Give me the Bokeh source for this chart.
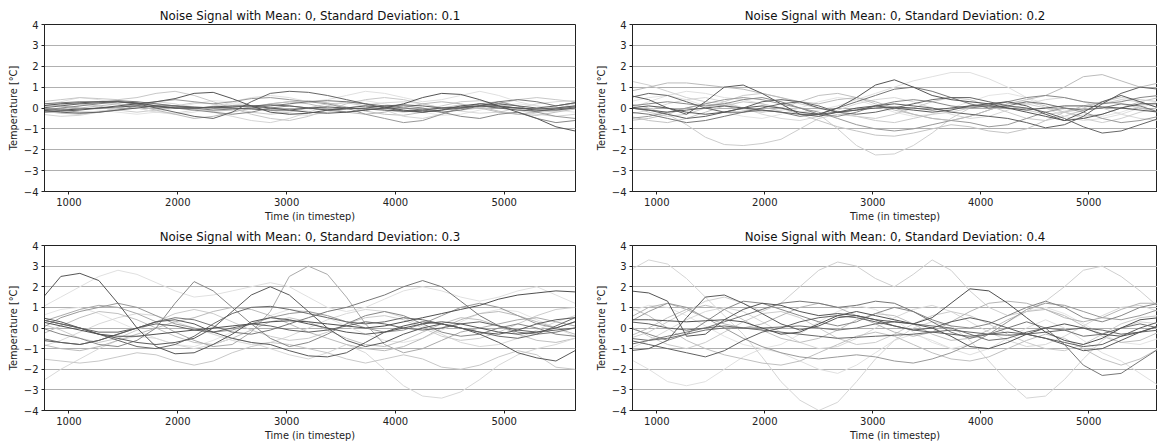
from bokeh.plotting import figure
from bokeh.layouts import column, row
from bokeh.models import Range1d, FixedTicker
from bokeh.embed import file_html
from bokeh.resources import INLINE

timesteps = list(range(750, 5651, 175))
y_ticks = [-4, -3, -2, -1, 0, 1, 2, 3, 4]
x_ticks = [1000, 2000, 3000, 4000, 5000]

# ---------- SD 0.1 ----------
sd01_colors = ["#e4e4e4", "#d8d8d8", "#cccccc", "#c0c0c0",
               "#e0e0e0", "#d5d5d5", "#c8c8c8", "#bbbbbb", "#999999", "#888888",
               "#777777", "#666666", "#606060", "#5a5a5a", "#555555", "#555555"]
sd01_lines = [
    [0.2,0.1,0.0,-0.1,-0.2,-0.3,-0.2,0.0,0.2,0.35,0.3,0.1,-0.1,-0.2,-0.1,0.1,0.3,0.35,0.2,0.0,-0.2,-0.35,-0.3,-0.1,0.1,0.2,0.1,-0.1,-0.2],
    [-0.25,-0.1,0.1,0.25,0.2,0.0,-0.2,-0.25,-0.1,0.1,0.2,0.1,-0.1,-0.3,-0.35,-0.2,0.0,0.15,0.25,0.3,0.2,0.0,-0.15,-0.25,-0.2,0.0,0.2,0.3,0.35],
    [0.05,0.15,0.2,0.1,-0.1,-0.2,-0.1,0.1,0.25,0.2,0.0,-0.2,-0.3,-0.2,0.0,0.2,0.25,0.1,-0.1,-0.2,-0.1,0.1,0.3,0.35,0.2,-0.05,-0.2,-0.15,0.0],
    [-0.15,-0.25,-0.3,-0.2,0.0,0.15,0.2,0.1,-0.05,-0.15,-0.1,0.05,0.2,0.3,0.35,0.25,0.05,-0.15,-0.3,-0.35,-0.2,0.0,0.15,0.05,-0.15,-0.3,-0.35,-0.2,-0.05],
    [0.1,0.3,0.5,0.4,0.2,0.0,-0.2,-0.3,-0.2,0.0,0.3,0.5,0.6,0.5,0.3,0.4,0.6,0.8,0.7,0.5,0.3,0.4,0.6,0.8,0.6,0.3,0.1,0.0,0.2],
    [-0.3,-0.4,-0.35,-0.2,0.0,0.2,0.3,0.2,0.0,-0.2,-0.4,-0.6,-0.7,-0.5,-0.2,0.1,0.3,0.2,-0.1,-0.4,-0.5,-0.3,0.0,0.2,0.1,-0.1,-0.3,-0.4,-0.3],
    [0.3,0.4,0.5,0.45,0.4,0.5,0.7,0.8,0.6,0.3,0.0,-0.3,-0.5,-0.6,-0.4,-0.1,0.2,0.4,0.5,0.4,0.2,0.0,-0.1,0.0,0.2,0.4,0.5,0.4,0.3],
    [0.25,0.1,0.0,0.1,0.2,0.1,-0.1,-0.3,-0.5,-0.4,-0.2,0.0,0.2,0.3,0.2,0.0,-0.2,-0.3,-0.2,0.0,0.2,0.3,0.2,0.0,-0.2,-0.3,-0.2,0.0,0.1],
    [0.0,-0.1,-0.2,-0.2,-0.1,0.1,0.3,0.4,0.3,0.2,0.3,0.45,0.5,0.4,0.3,0.2,0.0,-0.3,-0.5,-0.7,-0.6,-0.3,0.0,0.2,0.3,0.1,-0.2,-0.4,-0.5],
    [-0.1,0.0,0.1,0.2,0.3,0.2,0.1,0.0,-0.1,-0.2,-0.3,-0.2,0.0,0.1,0.0,-0.1,-0.2,-0.1,0.0,0.1,0.0,-0.2,-0.4,-0.5,-0.3,-0.2,-0.5,-0.7,-0.6],
    [0.2,0.25,0.3,0.3,0.35,0.3,0.2,0.1,0.0,-0.1,-0.05,0.0,0.1,0.2,0.3,0.35,0.3,0.2,0.1,0.0,-0.1,-0.2,-0.1,0.1,0.3,0.4,0.3,0.1,0.25],
    [0.0,0.1,0.2,0.25,0.3,0.2,0.0,-0.2,-0.4,-0.5,-0.2,0.3,0.7,0.8,0.75,0.6,0.4,0.2,0.0,-0.15,-0.2,-0.1,0.0,0.1,0.0,-0.1,-0.15,-0.05,0.05],
    [-0.1,-0.2,-0.25,-0.2,-0.1,0.0,0.1,0.1,0.05,0.0,0.05,0.1,0.15,0.1,0.0,-0.1,-0.05,0.0,0.1,0.15,0.1,0.0,0.0,0.1,0.2,0.1,0.0,0.1,0.25],
    [-0.2,-0.15,-0.1,0.0,0.05,0.1,0.05,0.0,0.0,0.05,0.0,-0.05,-0.1,-0.1,0.0,0.05,0.0,-0.05,-0.1,-0.15,-0.1,0.0,0.05,0.1,0.05,0.0,-0.05,0.0,0.1],
    [-0.1,-0.1,-0.05,0.0,0.1,0.2,0.3,0.45,0.7,0.75,0.45,0.1,-0.2,-0.3,-0.25,-0.1,0.0,0.1,0.05,-0.1,-0.2,-0.1,0.1,0.2,0.1,0.0,-0.1,-0.1,0.0],
    [0.1,0.2,0.25,0.3,0.3,0.25,0.1,0.0,0.0,0.05,0.1,0.1,0.0,-0.1,-0.2,-0.25,-0.2,-0.1,0.0,0.2,0.5,0.7,0.65,0.4,0.1,-0.2,-0.5,-0.9,-1.1],
]

# ---------- SD 0.2 ----------
sd02_colors = ["#e4e4e4", "#d8d8d8", "#cccccc", "#c0c0c0",
               "#e0e0e0", "#d0d0d0", "#cccccc", "#c4c4c4", "#bbbbbb", "#999999",
               "#888888", "#777777", "#666666", "#606060", "#5c5c5c", "#5a5a5a", "#555555"]
sd02_lines = [
    [0.3,0.5,0.6,0.4,0.1,-0.2,-0.4,-0.5,-0.3,0.0,0.3,0.5,0.4,0.1,-0.2,-0.4,-0.3,0.0,0.3,0.6,0.7,0.5,0.2,-0.1,-0.3,-0.4,-0.2,0.1,0.3],
    [-0.3,-0.1,0.2,0.4,0.5,0.3,0.0,-0.3,-0.5,-0.6,-0.4,-0.1,0.2,0.4,0.5,0.3,0.0,-0.3,-0.5,-0.4,-0.1,0.2,0.4,0.5,0.3,0.0,-0.3,-0.5,-0.6],
    [0.1,-0.2,-0.4,-0.3,0.0,0.3,0.6,0.7,0.5,0.2,0.0,-0.2,-0.4,-0.5,-0.3,0.0,0.3,0.5,0.4,0.1,-0.2,-0.5,-0.6,-0.4,-0.1,0.2,0.4,0.3,0.0],
    [-0.6,-0.5,-0.3,0.0,0.2,0.1,-0.1,-0.2,0.0,0.3,0.6,0.7,0.5,0.2,-0.1,-0.3,-0.5,-0.6,-0.4,-0.1,0.2,0.3,0.1,-0.2,-0.4,-0.3,0.0,0.3,0.5],
    [0.0,0.3,0.6,0.8,0.7,0.5,0.4,0.2,0.0,-0.2,-0.1,0.1,0.4,0.7,1.0,1.3,1.5,1.7,1.7,1.4,1.0,0.5,0.0,-0.4,-0.6,-0.5,-0.3,0.0,0.3],
    [1.3,1.1,0.8,0.5,0.3,0.2,0.0,-0.2,-0.1,0.0,-0.3,-1.0,-1.8,-2.25,-2.2,-1.8,-1.2,-0.5,0.0,0.2,0.3,0.2,0.0,-0.2,-0.5,-0.7,-0.5,-0.2,0.0],
    [0.2,0.0,-0.3,-0.8,-1.4,-1.75,-1.8,-1.7,-1.5,-1.0,-0.5,-0.3,-0.4,-0.6,-0.7,-0.5,-0.3,-0.2,0.0,0.2,0.1,-0.1,-0.3,-0.2,0.0,0.3,0.5,0.4,0.3],
    [-0.4,-0.6,-0.7,-0.5,-0.2,0.1,0.3,0.2,0.0,-0.3,-0.6,-0.9,-1.1,-1.3,-1.35,-1.2,-1.0,-0.8,-0.9,-1.1,-1.2,-1.0,-0.6,-0.2,0.1,0.3,0.2,0.0,-0.2],
    [0.8,1.0,1.2,1.2,1.1,1.0,0.9,0.7,0.5,0.3,0.2,0.4,0.5,0.3,0.0,-0.3,-0.5,-0.6,-0.4,-0.1,0.2,0.4,0.6,1.0,1.5,1.6,1.3,1.0,1.2],
    [-0.5,-0.4,-0.2,0.0,0.2,0.4,0.5,0.4,0.2,0.0,-0.2,-0.5,-0.8,-1.0,-1.1,-1.0,-0.8,-0.6,-0.7,-0.9,-0.8,-0.5,-0.2,0.0,-0.2,-0.5,-0.7,-0.6,-0.4],
    [0.1,0.2,0.3,0.2,0.1,0.2,0.4,0.5,0.3,0.0,-0.3,-0.4,-0.2,0.1,0.3,0.4,0.3,0.1,0.0,0.1,0.3,0.5,0.6,0.5,0.3,0.2,0.3,0.5,0.6],
    [-0.2,-0.3,-0.5,-0.7,-0.6,-0.4,-0.2,-0.1,-0.2,-0.4,-0.3,0.0,0.3,0.6,0.9,1.0,0.8,0.5,0.2,0.0,0.1,0.3,0.2,0.0,-0.1,0.0,0.2,0.1,-0.2],
    [0.5,0.7,0.6,0.3,0.0,-0.2,-0.2,0.0,0.2,0.3,0.1,-0.2,-0.3,-0.2,0.0,0.2,0.4,0.5,0.5,0.3,0.1,0.0,-0.2,-0.5,-0.9,-1.2,-1.1,-0.8,-0.5],
    [0.0,-0.1,-0.3,-0.5,-0.4,-0.2,0.0,0.3,0.4,0.3,0.0,-0.2,-0.1,0.1,0.2,0.1,0.0,-0.2,-0.3,-0.4,-0.5,-0.7,-0.95,-0.8,-0.4,0.2,0.7,1.0,0.9],
    [0.0,-0.1,-0.2,-0.1,0.0,0.1,0.0,-0.1,-0.2,-0.3,-0.3,-0.2,-0.1,0.0,0.05,0.0,-0.1,0.0,0.1,0.1,0.0,-0.1,0.0,0.1,0.1,0.05,0.0,-0.1,-0.2],
    [0.6,0.4,0.0,-0.3,0.3,1.0,1.1,0.7,0.2,-0.3,-0.4,-0.2,0.0,0.1,0.0,-0.1,-0.2,-0.1,0.1,0.2,0.3,0.1,-0.3,-0.6,-0.2,0.3,0.6,0.3,0.0],
    [0.0,0.1,0.0,-0.2,-0.3,-0.2,0.0,0.1,0.0,-0.2,-0.3,0.0,0.5,1.1,1.35,1.0,0.6,0.4,0.3,0.2,0.0,-0.2,-0.4,-0.6,-0.5,-0.3,0.0,0.2,0.2],
]

# ---------- SD 0.3 ----------
sd03_colors = ["#e4e4e4", "#d8d8d8", "#cccccc", "#c0c0c0",
               "#e0e0e0", "#d8d8d8", "#c8c8c8", "#bbbbbb", "#aaaaaa", "#999999",
               "#888888", "#777777", "#6a6a6a", "#636363", "#5a5a5a", "#5a5a5a", "#4f4f4f", "#555555"]
sd03_lines = [
    [0.6,0.9,1.0,0.7,0.3,-0.1,-0.5,-0.8,-0.9,-0.6,-0.2,0.2,0.6,0.9,0.8,0.5,0.1,-0.3,-0.6,-0.7,-0.5,-0.1,0.3,0.7,0.9,0.8,0.4,0.0,-0.4],
    [-0.9,-0.6,-0.2,0.2,0.5,0.7,0.6,0.3,0.0,-0.3,-0.6,-0.8,-0.7,-0.4,0.0,0.4,0.7,0.9,0.8,0.5,0.1,-0.3,-0.7,-0.9,-0.8,-0.5,-0.1,0.3,0.6],
    [0.2,-0.1,-0.5,-0.7,-0.5,-0.1,0.3,0.7,0.9,0.7,0.3,-0.1,-0.4,-0.6,-0.5,-0.2,0.2,0.5,0.6,0.4,0.0,-0.4,-0.6,-0.5,-0.2,0.2,0.6,0.9,1.0],
    [-0.3,0.1,0.5,0.8,0.7,0.4,0.0,-0.4,-0.7,-0.8,-0.5,-0.1,0.3,0.5,0.3,-0.1,-0.5,-0.8,-0.9,-0.6,-0.2,0.2,0.5,0.4,0.1,-0.3,-0.6,-0.7,-0.5],
    [1.0,1.5,2.0,2.5,2.8,2.6,2.2,1.8,1.5,1.6,1.8,2.0,2.2,2.0,1.5,1.0,0.8,1.0,1.4,1.8,2.0,1.8,1.5,1.3,1.5,1.8,2.0,1.6,1.2],
    [-2.6,-2.0,-1.5,-1.0,-0.6,-0.4,-0.5,-0.8,-1.0,-0.8,-0.5,-0.7,-1.0,-1.3,-1.5,-1.2,-0.8,-1.2,-2.0,-2.8,-3.3,-3.4,-3.1,-2.5,-1.8,-1.3,-1.0,-0.8,-0.5],
    [-1.5,-1.6,-1.7,-1.6,-1.4,-1.2,-1.3,-1.6,-1.8,-1.6,-1.2,-0.9,-0.7,-0.8,-1.0,-1.2,-1.5,-1.7,-1.5,-1.3,-1.5,-1.9,-2.0,-1.8,-1.4,-1.1,-1.3,-1.9,-2.0],
    [-0.8,-1.0,-1.1,-0.9,-0.6,-0.3,0.0,0.3,0.5,0.8,1.0,0.9,0.6,0.2,-0.2,-0.5,-0.8,-1.0,-1.1,-0.9,-0.5,0.0,0.4,0.7,0.8,0.6,0.3,0.0,-0.3],
    [0.3,0.6,0.9,1.1,1.0,0.7,0.3,-0.2,-0.6,-0.9,-0.8,-0.2,0.8,2.5,3.0,2.6,1.5,0.2,-0.8,-1.2,-1.0,-0.6,-0.2,0.0,0.2,0.4,0.5,0.3,0.1],
    [0.0,0.5,0.8,1.0,1.2,1.0,0.6,0.2,0.0,-0.2,-0.1,0.2,0.5,0.7,0.8,0.6,0.3,0.0,-0.2,-0.1,0.2,0.6,1.0,1.2,1.0,0.6,0.2,0.0,0.3],
    [0.0,-0.3,-0.5,-0.8,-0.9,-0.6,0.0,1.2,2.25,1.8,1.0,0.2,-0.5,-0.9,-0.7,-0.3,0.2,0.6,0.8,0.6,0.2,-0.2,-0.4,-0.3,0.0,0.2,0.0,-0.3,-0.4],
    [-0.5,-0.7,-0.8,-0.6,-0.3,0.0,0.3,0.5,0.4,0.1,-0.2,-0.3,-0.1,0.2,0.5,0.8,1.0,1.3,1.6,2.0,2.3,2.0,1.3,0.6,0.1,-0.2,-0.3,-0.2,0.0],
    [0.4,0.2,0.0,-0.3,-0.6,-0.9,-1.0,-0.8,-0.4,0.2,0.7,1.0,1.05,0.9,0.7,0.5,0.3,0.2,0.3,0.5,0.4,0.2,0.0,-0.2,-0.4,-0.5,-0.3,0.1,0.5],
    [0.4,0.2,0.0,-0.2,-0.2,0.0,0.2,0.1,-0.1,-0.2,0.0,0.2,0.1,-0.1,-0.2,-0.1,0.1,0.3,0.2,0.0,-0.1,0.0,0.2,0.3,0.1,-0.1,-0.2,-0.1,0.0],
    [0.5,0.3,0.0,-0.3,-0.5,-0.7,-0.8,-0.7,-0.5,0.0,0.8,1.6,2.0,1.6,0.8,0.0,-0.6,-0.9,-0.7,-0.3,0.0,0.2,0.0,-0.2,-0.3,-0.1,0.2,0.4,0.5],
    [-0.6,-0.7,-0.8,-0.6,-0.3,0.0,0.3,0.4,0.2,-0.2,-0.5,-0.7,-0.8,-1.1,-1.35,-1.4,-1.2,-0.7,-0.2,0.1,0.3,0.2,0.0,-0.3,-0.7,-1.2,-1.45,-1.6,-1.1],
    [0.3,0.1,-0.1,-0.3,-0.4,-0.4,-0.3,-0.2,-0.1,0.0,0.1,0.2,0.3,0.35,0.3,0.2,0.1,0.0,0.1,0.3,0.5,0.7,0.9,1.1,1.4,1.6,1.7,1.8,1.75],
    [1.4,2.5,2.65,2.3,1.2,0.0,-0.9,-1.25,-1.2,-0.8,-0.3,0.3,0.5,0.4,0.2,0.0,-0.2,-0.3,-0.2,0.0,0.2,0.3,0.2,0.0,-0.2,-0.3,-0.2,0.0,0.3],
]

# ---------- SD 0.4 ----------
sd04_colors = ["#e4e4e4", "#d8d8d8", "#cccccc", "#c0c0c0",
               "#e0e0e0", "#d5d5d5", "#cfcfcf", "#c0c0c0", "#b5b5b5", "#9a9a9a",
               "#888888", "#777777", "#707070", "#666666", "#606060", "#5a5a5a", "#4f4f4f", "#555555"]
sd04_lines = [
    [0.8,1.1,1.0,0.6,0.1,-0.4,-0.8,-1.0,-0.8,-0.3,0.3,0.8,1.1,0.9,0.4,-0.2,-0.7,-1.0,-0.8,-0.3,0.3,0.8,1.0,0.7,0.2,-0.3,-0.7,-0.8,-0.5],
    [-1.0,-0.6,-0.1,0.4,0.8,1.0,0.8,0.3,-0.2,-0.7,-1.0,-0.9,-0.5,0.0,0.5,0.9,1.1,0.8,0.3,-0.2,-0.6,-0.9,-0.8,-0.4,0.1,0.6,1.0,1.1,0.8],
    [0.1,-0.4,-0.8,-1.0,-0.7,-0.2,0.3,0.7,0.8,0.5,0.0,-0.5,-0.8,-0.7,-0.3,0.2,0.6,0.8,0.6,0.2,-0.3,-0.7,-1.0,-1.1,-0.8,-0.3,0.2,0.5,0.6],
    [-0.4,0.0,0.5,0.9,1.1,0.9,0.4,-0.1,-0.5,-0.7,-0.5,-0.1,0.4,0.7,0.6,0.2,-0.3,-0.6,-0.5,-0.1,0.4,0.8,0.9,0.6,0.1,-0.4,-0.7,-0.6,-0.2],
    [-1.5,-2.0,-2.6,-2.8,-2.6,-2.0,-1.4,-1.0,-1.2,-1.6,-2.0,-2.2,-1.8,-1.2,-0.6,-0.3,-0.6,-1.0,-1.3,-1.0,-0.5,0.0,0.4,0.0,-0.6,-1.2,-1.6,-2.2,-2.8],
    [2.8,3.3,3.1,2.4,1.5,0.6,-0.3,-1.4,-2.6,-3.5,-4.0,-3.6,-2.6,-1.5,-0.6,0.0,0.3,0.1,-0.6,-1.6,-2.6,-3.4,-3.3,-2.5,-1.5,-0.6,0.0,0.3,0.2],
    [-0.5,-0.2,0.3,0.8,1.3,1.5,1.2,0.8,1.2,2.0,2.8,3.2,3.0,2.4,2.0,2.6,3.3,2.8,1.8,1.0,0.6,0.8,1.3,2.0,2.8,3.0,2.5,1.8,1.0],
    [1.0,0.6,0.0,-0.6,-1.0,-1.3,-1.5,-1.7,-1.8,-1.6,-1.2,-0.8,-0.4,-0.2,-0.4,-0.8,-1.2,-1.5,-1.6,-1.4,-1.0,-0.6,-0.3,-0.5,-1.0,-1.5,-1.8,-1.5,-1.0],
    [0.5,1.0,1.2,0.9,0.5,0.2,0.0,0.2,0.6,1.0,1.2,1.0,0.6,0.2,-0.2,-0.4,-0.2,0.3,0.8,1.2,1.3,1.2,0.9,0.5,0.3,0.5,0.9,1.2,1.2],
    [0.3,0.8,1.2,1.0,0.5,0.0,-0.5,-0.9,-1.2,-1.4,-1.5,-1.4,-1.3,-1.4,-1.6,-1.7,-1.5,-1.2,-0.8,-0.3,0.3,0.9,1.2,1.1,0.8,0.5,0.4,0.6,0.9],
    [0.0,-0.3,-0.6,-0.3,0.3,0.9,1.3,1.2,0.9,0.6,0.3,0.1,0.3,0.7,1.0,0.8,0.4,0.1,0.0,0.2,0.6,1.0,1.3,1.0,0.5,0.3,0.6,1.0,1.2],
    [-0.8,-0.6,-0.4,-0.2,0.0,0.3,0.6,0.9,1.2,1.3,1.2,1.0,1.1,1.3,1.2,0.8,0.3,-0.2,-0.5,-0.3,0.0,0.3,0.0,-0.8,-1.8,-2.3,-2.2,-1.6,-1.0],
    [-0.5,-0.6,-0.5,-0.3,-0.1,0.0,0.0,0.0,0.05,0.1,0.0,-0.1,0.0,0.2,0.3,0.2,0.1,0.0,-0.3,-0.6,-0.5,-0.2,0.0,-0.1,-0.4,-0.3,0.0,0.2,0.0],
    [0.3,0.2,0.0,-0.1,0.0,0.1,0.0,-0.1,-0.2,-0.3,-0.4,-0.5,-0.45,-0.4,-0.35,-0.3,-0.2,-0.1,-0.2,-0.3,-0.35,-0.3,-0.2,-0.1,0.0,-0.1,-0.3,-0.2,-0.1],
    [-0.6,-0.8,-1.0,-1.2,-1.4,-1.1,-0.6,-0.2,0.0,0.3,0.5,0.6,0.5,0.3,0.1,-0.1,-0.2,-0.3,-0.4,-0.3,-0.2,-0.3,-0.5,-0.7,-0.9,-0.8,-0.4,0.0,0.3],
    [-1.1,-1.0,-0.6,0.5,1.5,1.6,1.2,0.7,0.2,-0.1,0.1,0.5,0.6,0.4,0.1,-0.1,0.0,0.3,0.5,0.3,0.0,-0.3,-0.5,-0.8,-1.1,-1.0,-0.6,-0.2,0.1],
    [0.4,0.4,0.35,0.3,0.35,0.4,0.3,0.0,-0.3,-0.2,0.2,0.6,0.8,0.6,0.4,0.2,0.5,1.2,1.9,1.8,1.2,0.5,-0.2,-0.6,-0.8,-0.5,0.0,0.4,0.5],
    [1.8,1.7,1.3,-0.4,-0.3,0.4,0.9,1.2,1.1,0.8,0.6,0.7,0.6,0.4,0.3,0.2,0.0,-0.4,-0.9,-1.0,-0.7,-0.3,0.0,0.2,0.0,-0.3,-0.4,-0.2,0.1],
]

titles = ["Noise Signal with Mean: 0, Standard Deviation: 0.1",
          "Noise Signal with Mean: 0, Standard Deviation: 0.2",
          "Noise Signal with Mean: 0, Standard Deviation: 0.3",
          "Noise Signal with Mean: 0, Standard Deviation: 0.4"]

FONT = "DejaVu Sans"


def make_panel(title, lines, colors, width, height, left, right, top, bottom, x_end):
    p = figure(width=width, height=height, output_backend="svg", toolbar_location=None,
               x_range=Range1d(775, x_end), y_range=Range1d(-4, 4),
               min_border_left=left, min_border_right=right,
               min_border_top=top, min_border_bottom=bottom)
    p.title.text = title
    p.title.align = "center"
    p.title.text_font = FONT
    p.title.text_font_size = "11.8px"
    p.title.text_font_style = "normal"
    p.title.text_color = "#111111"
    p.title.standoff = 4
    p.title.offset = 0
    p.background_fill_color = "white"
    p.border_fill_color = "white"
    p.outline_line_color = "#222222"
    p.outline_line_width = 1
    p.xgrid.visible = False
    p.ygrid.ticker = FixedTicker(ticks=y_ticks)
    p.ygrid.grid_line_color = "#b0b0b0"
    p.ygrid.grid_line_width = 1
    p.xaxis.ticker = FixedTicker(ticks=x_ticks)
    p.yaxis.ticker = FixedTicker(ticks=y_ticks)
    p.yaxis.major_label_overrides = {t: str(t).replace("-", "\u2212") for t in y_ticks}
    p.xaxis.axis_label = "Time (in timestep)"
    p.yaxis.axis_label = "Temperature [\u00b0C]"
    for ax in (p.xaxis[0], p.yaxis[0]):
        ax.axis_line_color = "#222222"
        ax.major_tick_line_color = "#222222"
        ax.major_tick_out = 3
        ax.major_tick_in = 0
        ax.minor_tick_line_color = None
        ax.major_label_text_font = FONT
        ax.major_label_text_font_size = "10px"
        ax.major_label_text_color = "#222222"
        ax.axis_label_text_font = FONT
        ax.axis_label_text_font_size = "9.8px"
        ax.axis_label_text_font_style = "normal"
        ax.axis_label_text_color = "#222222"
        ax.major_label_standoff = 3
        ax.axis_label_standoff = 2
    for ys, c in zip(lines, colors):
        p.line(timesteps, ys, line_color=c, line_width=1.0)
    return p


p1 = make_panel(titles[0], sd01_lines, sd01_colors, 592, 225, 44, 17, 24, 34, 5655)
p2 = make_panel(titles[1], sd02_lines, sd02_colors, 565, 225, 36, 0, 24, 34, 5637)
p3 = make_panel(titles[2], sd03_lines, sd03_colors, 592, 219, 44, 17, 16, 34, 5655)
p4 = make_panel(titles[3], sd04_lines, sd04_colors, 565, 219, 36, 0, 16, 34, 5637)

layout = column(row(p1, p2), row(p3, p4))
open("out.html", "w").write(file_html(layout, INLINE))
